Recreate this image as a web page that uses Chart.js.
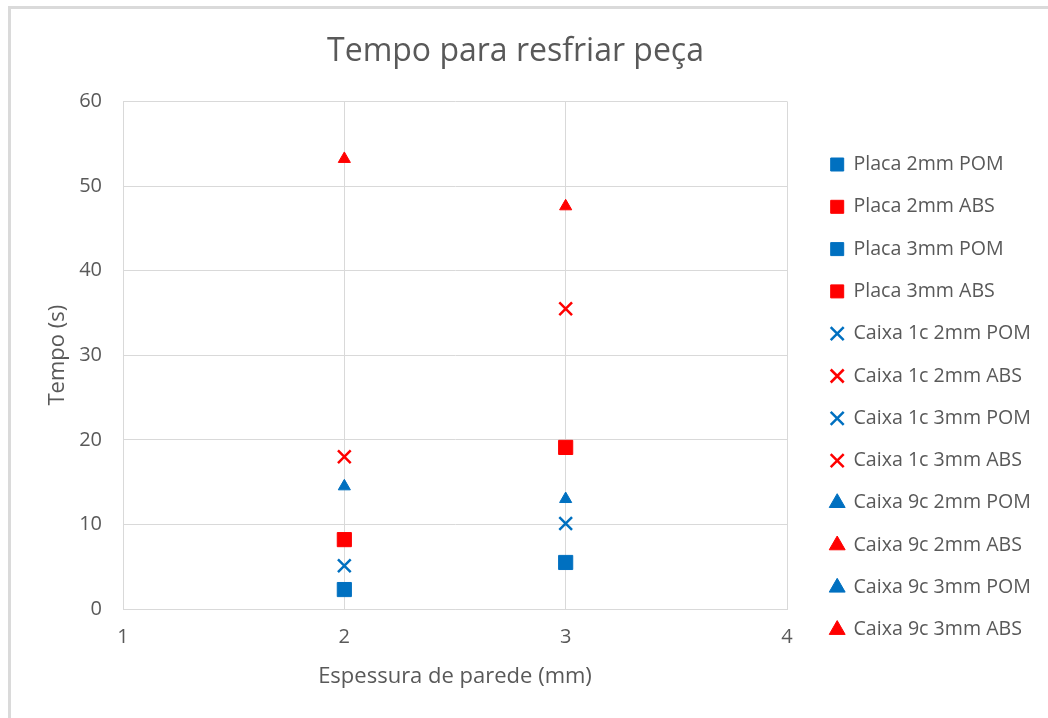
<!DOCTYPE html>
<html lang="pt">
<head>
<meta charset="utf-8">
<title>Tempo para resfriar peça</title>
<script src="https://cdn.jsdelivr.net/npm/chart.js@4.4.1/dist/chart.umd.min.js"></script>
<style>
  html, body { margin: 0; padding: 0; background: #fff; }
  #wrap { position: relative; width: 1048px; height: 718px; }
  #frame {
    position: absolute; left: 8px; top: 6px; right: 0; bottom: 0;
    border-top: 3px solid #dadada; border-left: 3px solid #dadada;
    pointer-events: none;
  }
</style>
</head>
<body>
<div id="wrap">
  <canvas id="chart" width="1048" height="718"></canvas>
  <div id="frame"></div>
</div>
<script>
// Dados
const series = [
  'Placa 2mm POM', 'Placa 2mm ABS', 'Placa 3mm POM', 'Placa 3mm ABS',
  'Caixa 1c 2mm POM', 'Caixa 1c 2mm ABS', 'Caixa 1c 3mm POM', 'Caixa 1c 3mm ABS',
  'Caixa 9c 2mm POM', 'Caixa 9c 2mm ABS', 'Caixa 9c 3mm POM', 'Caixa 9c 3mm ABS'
];
const espessura = [2, 2, 3, 3, 2, 2, 3, 3, 2, 2, 3, 3];
const tempo = [2.3, 8.2, 5.5, 19.1, 5.1, 18.0, 10.1, 35.5, 14.5, 53.2, 13.0, 47.6];
const xTicks = [1, 2, 3, 4];
const yTicks = [0, 10, 20, 30, 40, 50, 60];

// Estilo por material e por tipo de peça
const corMaterial = { POM: '#0070C0', ABS: '#FF0000' };
const marcador = {
  Placa: { pointStyle: 'rect', radius: 10, border: 1 },
  'Caixa 1c': { pointStyle: 'crossRot', radius: 9, border: 2.5 },
  'Caixa 9c': { pointStyle: 'triangle', radius: 7, border: 1 }
};

const textColor = '#595959';
const gridColor = '#d9d9d9';
const fontFamily = '"Open Sans", "Segoe UI", sans-serif';

const datasets = series.map((nome, i) => {
  const material = nome.endsWith('ABS') ? 'ABS' : 'POM';
  const tipo = nome.startsWith('Placa') ? 'Placa' : nome.slice(0, 8);
  const m = marcador[tipo];
  const cor = corMaterial[material];
  return {
    label: nome,
    data: [{ x: espessura[i], y: tempo[i] }],
    pointStyle: m.pointStyle,
    pointRadius: m.radius,
    pointHoverRadius: m.radius,
    borderWidth: m.border,
    backgroundColor: cor,
    borderColor: cor,
    showLine: false
  };
});

const ctx = document.getElementById('chart').getContext('2d');
const chart = new Chart(ctx, {
  type: 'scatter',
  data: { datasets: datasets },
  options: {
    responsive: false,
    animation: false,
    layout: { padding: { right: 17 } },
    scales: {
      x: {
        type: 'linear',
        min: 1,
        max: 4,
        afterBuildTicks: scale => { scale.ticks = xTicks.map(v => ({ value: v })); },
        afterFit: scale => { scale.height = 109; },
        grid: { color: gridColor, drawTicks: false },
        border: { color: gridColor },
        ticks: { color: textColor, padding: 16, font: { family: fontFamily, size: 20 } },
        title: {
          display: true,
          text: 'Espessura de parede (mm)',
          color: textColor,
          font: { family: fontFamily, size: 22 },
          padding: { top: 0, bottom: 28 }
        }
      },
      y: {
        min: 0,
        max: 60,
        afterBuildTicks: scale => { scale.ticks = yTicks.map(v => ({ value: v })); },
        afterFit: scale => { scale.width = 123; },
        grid: { color: gridColor, drawTicks: false },
        border: { color: gridColor },
        ticks: { color: textColor, padding: 21, font: { family: fontFamily, size: 20 } },
        title: {
          display: true,
          text: 'Tempo (s)',
          color: textColor,
          font: { family: fontFamily, size: 22 },
          padding: { top: 45, bottom: 0 }
        }
      },
      // eixo vazio só para afastar a área do gráfico da legenda
      y2: {
        position: 'right',
        display: true,
        grid: { display: false, drawTicks: false },
        border: { display: false },
        ticks: { display: false },
        afterFit: scale => { scale.width = 21; }
      }
    },
    plugins: {
      title: {
        display: true,
        text: 'Tempo para resfriar peça',
        color: textColor,
        font: { family: fontFamily, size: 32, weight: 'normal' },
        padding: { top: 33, bottom: 30 }
      },
      legend: {
        position: 'right',
        align: 'start',
        maxWidth: 223,
        title: { display: true, text: ' ', font: { size: 10, lineHeight: 1 }, padding: { top: 122, bottom: 0 } },
        labels: {
          usePointStyle: true,
          boxWidth: 13,
          boxHeight: 13,
          padding: 22.7,
          color: textColor,
          font: { family: fontFamily, size: 19.6 }
        }
      },
      tooltip: { enabled: false }
    }
  }
});
</script>
</body>
</html>
